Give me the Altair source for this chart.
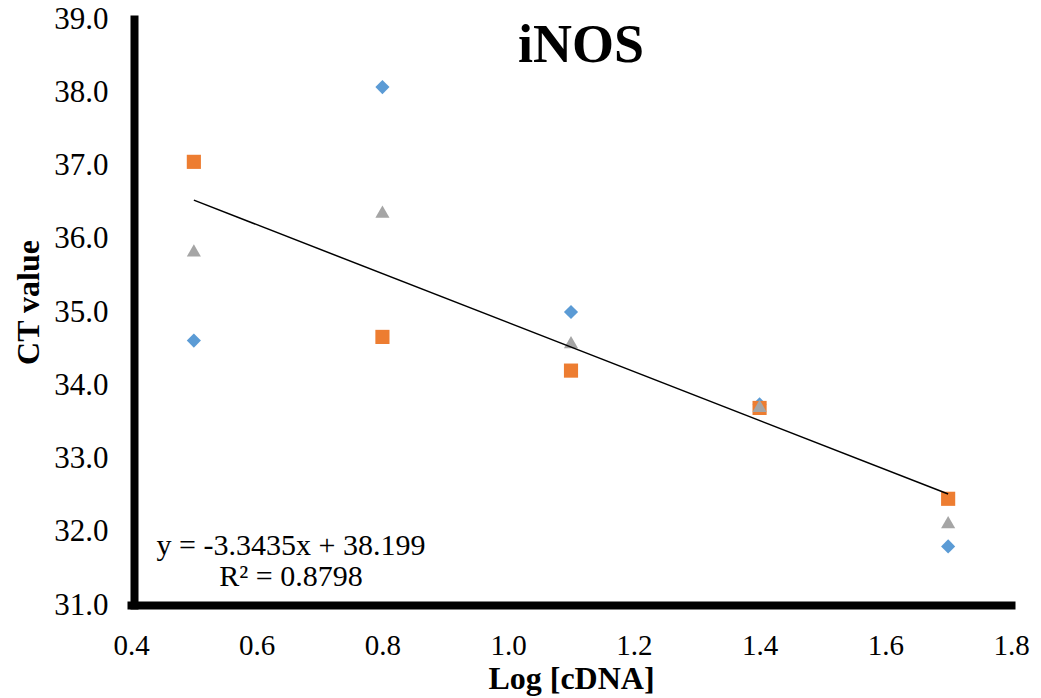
import altair as alt
import pandas as pd

# qPCR standard curve for iNOS: three replicate series of CT values
log_cdna = [0.5, 0.8, 1.1, 1.4, 1.7]
ct_rep1 = [34.61, 38.07, 35.00, 33.74, 31.80]
ct_rep2 = [37.05, 34.66, 34.20, 33.69, 32.45]
ct_rep3 = [35.84, 36.37, 34.59, 33.72, 32.13]
series_names = ["Rep 1", "Rep 2", "Rep 3"]
series_colors = ["#5B9BD5", "#ED7D31", "#A5A5A5"]
series_shapes = ["diamond", "square", "triangle-up"]

# linear trendline as reported
slope = -3.3435
intercept = 38.199
r_squared = 0.8798

x_ticks = [0.4, 0.6, 0.8, 1.0, 1.2, 1.4, 1.6, 1.8]
y_ticks = [31.0, 32.0, 33.0, 34.0, 35.0, 36.0, 37.0, 38.0, 39.0]

FONT = "Liberation Serif"

rows = []
for name, vals in zip(series_names, [ct_rep1, ct_rep2, ct_rep3]):
    for xv, yv in zip(log_cdna, vals):
        rows.append({"log": xv, "ct": yv, "series": name})
points_df = pd.DataFrame(rows)

trend_x = [min(log_cdna), max(log_cdna)]
trend_df = pd.DataFrame({"log": trend_x, "ct": [slope * v + intercept for v in trend_x]})

eq_df = pd.DataFrame({
    "log": [0.6545, 0.6545],
    "ct": [31.68, 31.26],
    "label": [f"y = {slope}x + {intercept}", f"R² = {r_squared}"],
})

x_scale = alt.Scale(domain=[0.4, 1.8], nice=False, zero=False)
y_scale = alt.Scale(domain=[31, 39], nice=False, zero=False)

x_axis = alt.Axis(
    values=x_ticks, format=".1f", title="Log [cDNA]", grid=False, ticks=False,
    domainColor="black", domainWidth=8, domainCap="square",
    labelFont=FONT, labelFontSize=29, labelColor="black", labelPadding=26,
    labelFlush=False, labelOverlap=False,
    titleFont=FONT, titleFontSize=32, titleFontWeight="bold", titleColor="black",
    titleY=83, titleBaseline="alphabetic",
)
y_axis = alt.Axis(
    values=y_ticks, format=".1f", title="CT value", grid=False, ticks=False,
    domainColor="black", domainWidth=8, domainCap="square", offset=-3,
    labelFont=FONT, labelFontSize=31, labelColor="black", labelPadding=26,
    labelFlush=False, labelOverlap=False,
    titleFont=FONT, titleFontSize=32, titleFontWeight="bold", titleColor="black",
    titleX=-106, titleY=283, titleAlign="center", titleBaseline="middle", titleAngle=270,
)

points = alt.Chart(points_df).mark_point(filled=True, opacity=1, size=200).encode(
    x=alt.X("log:Q", scale=x_scale, axis=x_axis),
    y=alt.Y("ct:Q", scale=y_scale, axis=y_axis),
    color=alt.Color("series:N", scale=alt.Scale(domain=series_names, range=series_colors), legend=None),
    shape=alt.Shape("series:N", scale=alt.Scale(domain=series_names, range=series_shapes), legend=None),
)

trend = alt.Chart(trend_df).mark_line(color="black", strokeWidth=1.5).encode(
    x=alt.X("log:Q", scale=x_scale),
    y=alt.Y("ct:Q", scale=y_scale),
)

equation = alt.Chart(eq_df).mark_text(
    font=FONT, fontSize=30, color="black", align="center", baseline="alphabetic"
).encode(
    x=alt.X("log:Q", scale=x_scale),
    y=alt.Y("ct:Q", scale=y_scale),
    text="label:N",
)

title = alt.Chart(pd.DataFrame({"t": ["iNOS"]})).mark_text(
    font=FONT, fontSize=54, fontWeight="bold", color="black", align="center", baseline="alphabetic"
).encode(
    x=alt.value(450), y=alt.value(43), text="t:N",
)

chart = alt.layer(points, trend, equation, title).properties(
    width=880,
    height=586,
    padding={"left": 131, "top": 19, "right": 30, "bottom": 93},
    autosize=alt.AutoSizeParams(type="none"),
    background="white",
).configure_view(stroke=None)

chart.save("out.html", embed_options={"renderer": "svg", "actions": False})
